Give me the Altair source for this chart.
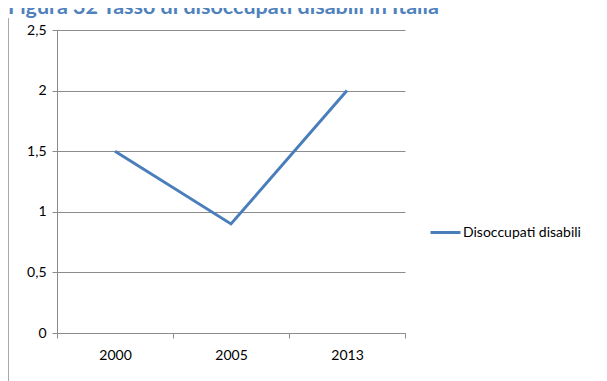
import altair as alt
import pandas as pd

years = ["2000", "2005", "2013"]
values = [1.5, 0.9, 2.0]
series = "Disoccupati disabili"
title_text = "Figura 32 Tasso di disoccupati disabili in Italia"
y_ticks = [0, 0.5, 1, 1.5, 2, 2.5]

df = pd.DataFrame({"anno": years, "valore": values, "serie": [series] * len(years)})

FONT = "Lato"
GRAY = "#8c8c8c"
BLUE = "#4a7ebb"

base = alt.Chart(df)

line = base.mark_line(strokeWidth=3, clip=False).encode(
    x=alt.X("anno:N", sort=years,
            scale=alt.Scale(type="band", paddingInner=0, paddingOuter=0),
            axis=alt.Axis(title=None, labelAngle=0, tickBand="extent", domainColor=GRAY,
                          tickColor=GRAY, tickSize=5, labelFont=FONT, labelFontSize=14,
                          labelColor="#000000", labelPadding=10, grid=False)),
    y=alt.Y("valore:Q", scale=alt.Scale(domain=[0, 2.5], nice=False),
            axis=alt.Axis(title=None, values=y_ticks, grid=True, gridColor=GRAY,
                          domainColor=GRAY, tickColor=GRAY, tickSize=5,
                          labelFont=FONT, labelFontSize=14, labelColor="#000000",
                          labelPadding=6,
                          labelExpr="replace(toString(datum.value), '.', ',')")),
    color=alt.Color("serie:N", scale=alt.Scale(domain=[series], range=[BLUE]),
                    legend=alt.Legend(title=None, orient="none", legendX=372, legendY=186,
                                      symbolType="stroke", symbolSize=900,
                                      symbolStrokeWidth=3, labelFont=FONT,
                                      labelFontSize=14, labelColor="#000000",
                                      labelOffset=1)),
)

title_df = pd.DataFrame({"t": [title_text]})
title = alt.Chart(title_df).mark_text(
    align="left", baseline="alphabetic", font=FONT, fontSize=21.5, fontWeight="bold",
    color="#4f81bd", clip=False
).encode(text="t:N", x=alt.value(-49), y=alt.value(-16))

border_df = pd.DataFrame({"a": [0]})
border = alt.Chart(border_df).mark_rule(color="#8c8c8c", strokeWidth=1.5, clip=False).encode(
    x=alt.value(-49), y=alt.value(-12), y2=alt.value(360))

chart = alt.layer(border, line, title).properties(
    width=348, height=303,
    autosize=alt.AutoSizeParams(type="none"),
    padding={"left": 49, "top": 22, "right": 194, "bottom": 48},
).configure_view(stroke=None)

chart.save("out.html", embed_options={"renderer": "svg", "actions": False})
